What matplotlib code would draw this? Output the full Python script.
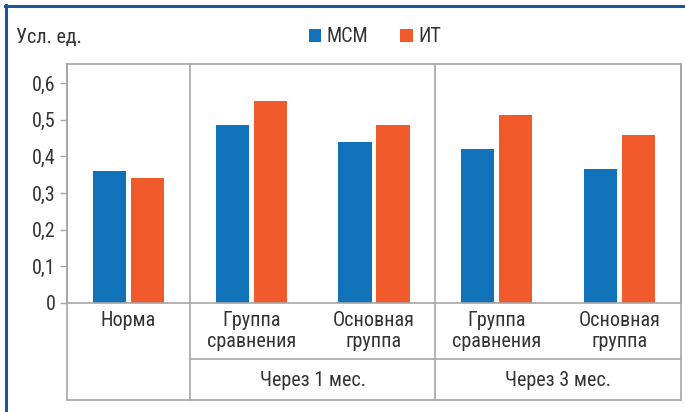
import matplotlib.pyplot as plt
from matplotlib.lines import Line2D
import numpy as np

# --- данные ---
categories = ['Норма', 'Группа\nсравнения', 'Основная\nгруппа', 'Группа\nсравнения', 'Основная\nгруппа']
groups = ['Через 1 мес.', 'Через 3 мес.']
msm = [0.36, 0.485, 0.44, 0.42, 0.365]
it = [0.34, 0.55, 0.485, 0.513, 0.457]
yticks = [0, 0.1, 0.2, 0.3, 0.4, 0.5, 0.6]
ytick_labels = ['0', '0,1', '0,2', '0,3', '0,4', '0,5', '0,6']

c_msm = '#1073BA'
c_it = '#F15A2B'
c_grid = '#A6A6A6'
c_text = '#333333'
c_frame = '#1F5599'

plt.rcParams['font.family'] = ['Roboto Condensed', 'Fira Sans Condensed', 'DejaVu Sans']
fs = 14.5

W, H = 685, 412
fig = plt.figure(figsize=(W / 100, H / 100), dpi=100)

# пиксели -> доли фигуры
def fx(px):
    return px / W

def fy(py):
    return 1 - py / H

ax_l, ax_r, ax_t, ax_b = 67, 681, 64, 303
ax = fig.add_axes([fx(ax_l), fy(ax_b), fx(ax_r) - fx(ax_l), fy(ax_t) - fy(ax_b)])

x = np.arange(len(categories))
w = 0.27
off = 0.155
ax.bar(x - off, msm, w, color=c_msm, label='МСМ')
ax.bar(x + off, it, w, color=c_it, label='ИТ')

ax.set_xlim(-0.5, len(categories) - 0.5)
ax.set_ylim(0, 0.652)
ax.set_yticks(yticks)
ax.set_yticklabels(ytick_labels, fontsize=fs, color=c_text)
ax.set_xticks([])
ax.tick_params(axis='y', length=5, width=1, color=c_grid, pad=3)
for s in ax.spines.values():
    s.set_color(c_grid)
    s.set_linewidth(1.2)

# таблица под осью
ax_h = ax_b - ax_t
def ya(py):
    return (ax_b - py) / ax_h

row1 = ya(359)
bottom = ya(400)
tr = ax.get_xaxis_transform()
for xv in [-0.5, 0.5, 2.5, 4.5]:
    ax.plot([xv, xv], [bottom, 1], color=c_grid, lw=1.2, transform=tr, clip_on=False)
ax.plot([0.5, 4.5], [row1, row1], color=c_grid, lw=1.2, transform=tr, clip_on=False)
ax.plot([-0.5, 4.5], [bottom, bottom], color=c_grid, lw=1.2, transform=tr, clip_on=False)

for xi, lab in zip(x, categories):
    ax.text(xi, ya(311), lab, transform=tr, ha='center', va='top', fontsize=fs,
            color=c_text, linespacing=1.12)

for gx, g in zip([1.5, 3.5], groups):
    ax.text(gx, ya(381), g, transform=tr, ha='center', va='center', fontsize=fs, color=c_text)

# подпись оси и легенда
fig.text(fx(16), fy(37), 'Усл. ед.', ha='left', va='center', fontsize=fs, color=c_text)
fig.legend(loc='center', bbox_to_anchor=(fx(375), fy(37)), ncol=2, frameon=False,
           fontsize=fs, handlelength=0.6, handleheight=0.6, handletextpad=0.3,
           columnspacing=1.6, labelcolor=c_text)

# синяя рамка
fig.add_artist(Line2D([fx(5), 1], [fy(5.5), fy(5.5)], color=c_frame, lw=2.2))
fig.add_artist(Line2D([fx(5.5), fx(5.5)], [0, fy(5)], color=c_frame, lw=2.2))

fig.savefig('out.png', dpi=100)
